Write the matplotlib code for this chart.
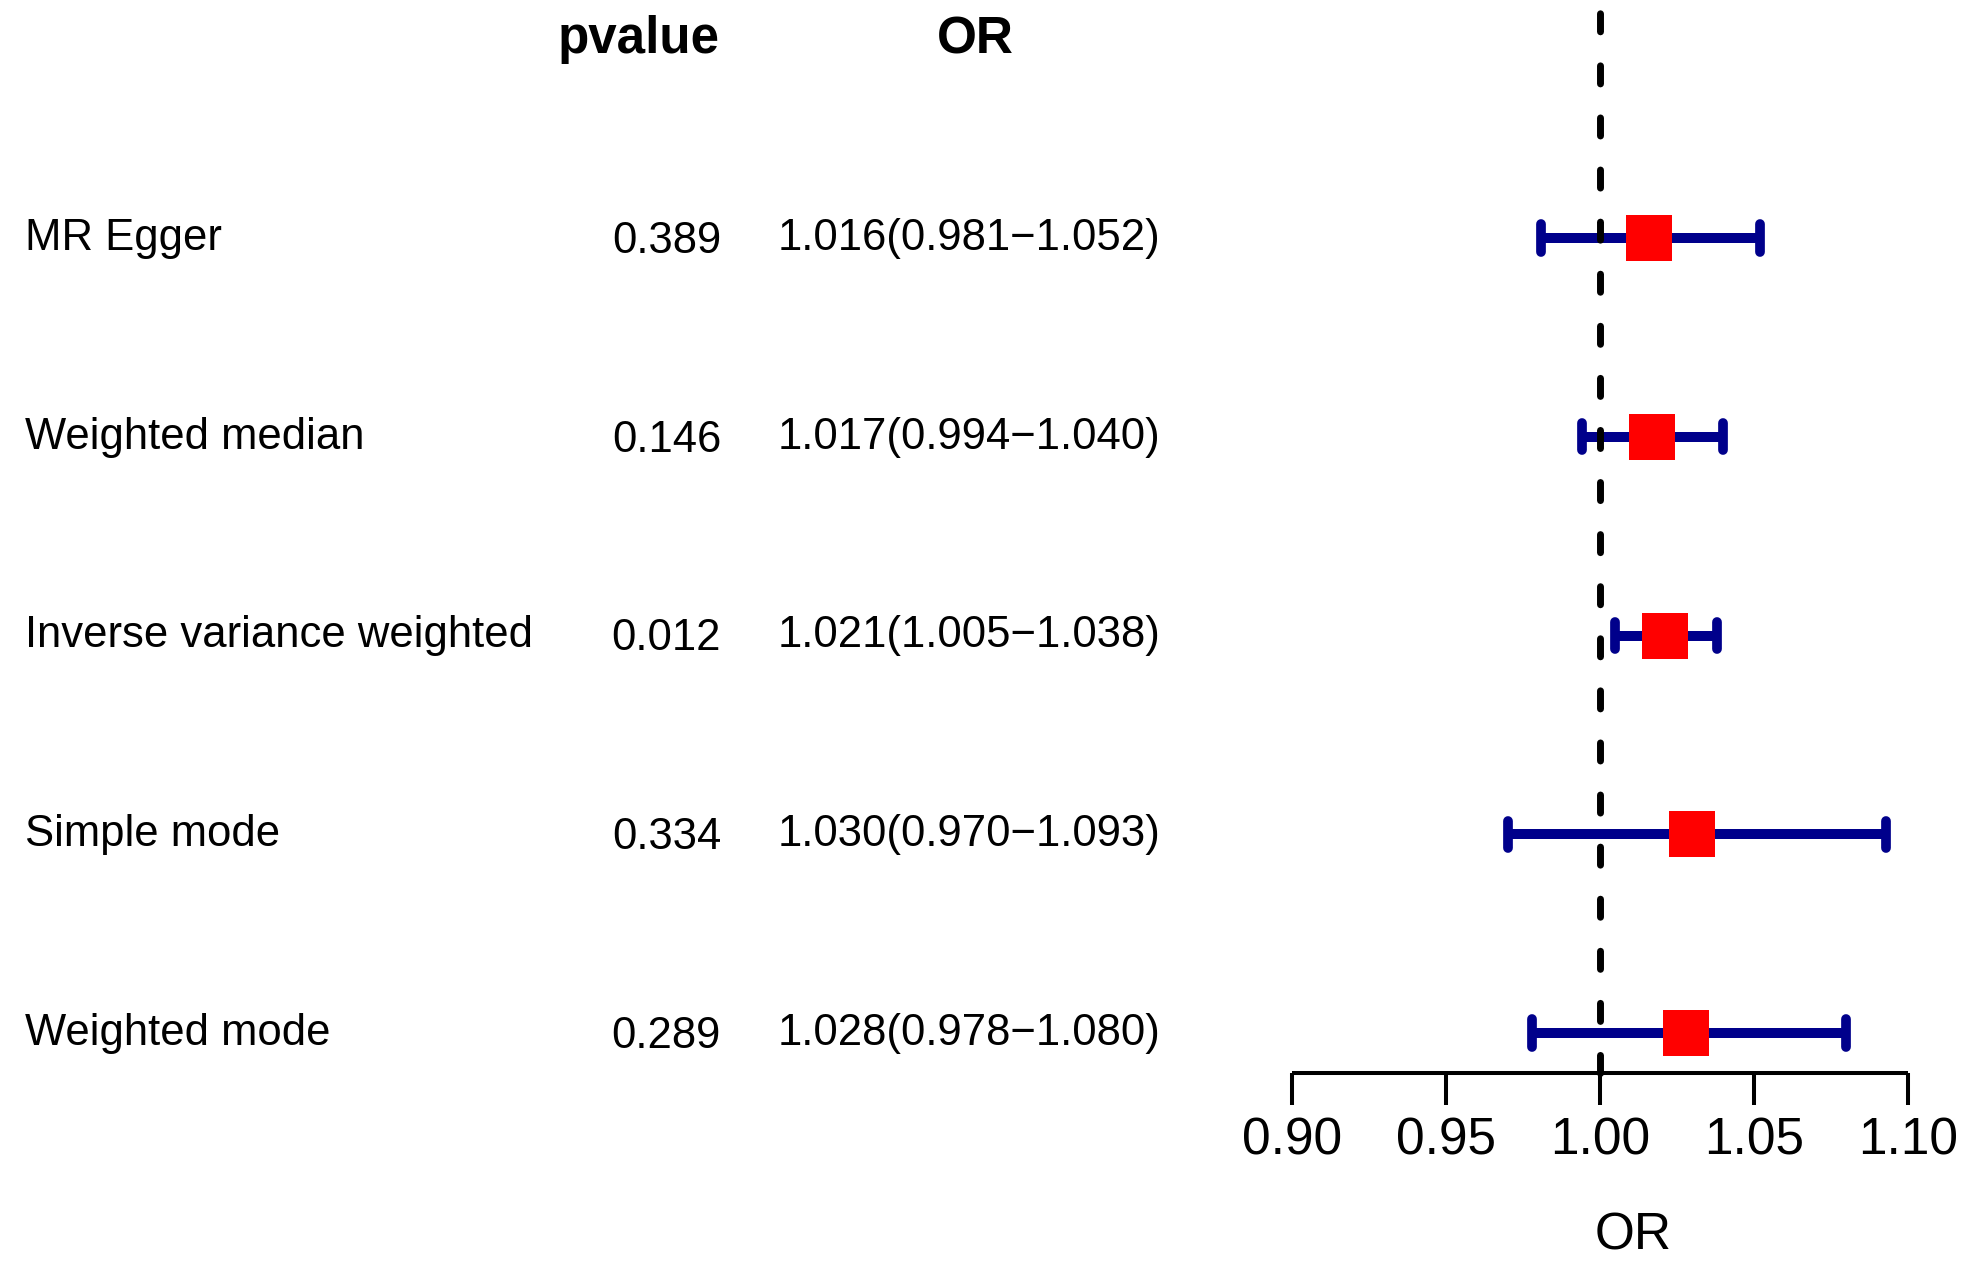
import matplotlib
matplotlib.use("Agg")
import matplotlib.pyplot as plt
import matplotlib.transforms as mtransforms

plt.rcParams['font.family'] = ['Liberation Sans', 'DejaVu Sans']

# ---- data ----
methods = ["MR Egger", "Weighted median", "Inverse variance weighted",
           "Simple mode", "Weighted mode"]
pvalues = ["0.389", "0.146", "0.012", "0.334", "0.289"]
or_vals = [1.016, 1.017, 1.021, 1.030, 1.028]
lower = [0.981, 0.994, 1.005, 0.970, 0.978]
upper = [1.052, 1.040, 1.038, 1.093, 1.080]
xticks = [0.90, 0.95, 1.00, 1.05, 1.10]
xtick_labels = ["0.90", "0.95", "1.00", "1.05", "1.10"]

W, H = 1969, 1261
fig = plt.figure(figsize=(W / 100, H / 100), dpi=100)

# forest axes: x 0.90..1.10 -> px 1292..1908 ; y px 0..1073
row0_px, row_step = 238.0, 198.75
axis_px = 1073.0
ax = fig.add_axes([1292 / W, (H - axis_px) / H, 616 / W, axis_px / H])
ax.set_xlim(0.90, 1.10)
ybot = -(axis_px - row0_px) / row_step
ytop = row0_px / row_step
ax.set_ylim(ybot, ytop)
ys = [-i for i in range(len(methods))]

for s in ['top', 'right', 'left']:
    ax.spines[s].set_visible(False)
ax.spines['bottom'].set_linewidth(2.9)
ax.spines['bottom'].set_bounds(0.90, 1.10)
ax.spines['bottom'].set_capstyle('butt')
ax.set_yticks([])
ax.set_xticks(xticks)
ax.set_xticklabels(xtick_labels, fontsize=37)
ax.tick_params(axis='x', length=23, width=2.9, pad=8.3, color='black')
ax.patch.set_alpha(0)

navy = '#00008B'
# error bars
ax.hlines(ys, lower, upper, colors=navy, linewidth=7.2, capstyle='butt', zorder=2)
cap_half = 13.7 / row_step
for lo, hi, y in zip(lower, upper, ys):
    ax.vlines([lo, hi], y - cap_half, y + cap_half, colors=navy,
              linewidth=7.0, capstyle='round', zorder=2)

# reference dashed line, drawn from bottom upwards
ax.plot([1.0, 1.0], [ybot, ytop + 0.5], color='black', linewidth=5,
        linestyle=(0, (2.6, 4.9)), dash_capstyle='round', zorder=3,
        clip_on=False)

# squares
ax.plot(or_vals, ys, linestyle='none', marker='s', markersize=33.8,
        markerfacecolor='#FF0000', markeredgewidth=0, zorder=4)

# ---- text columns ----
blend = mtransforms.blended_transform_factory(fig.transFigure, ax.transData)

def off(px):
    return blend + mtransforms.ScaledTranslation(0, -px / 100, fig.dpi_scale_trans)

for name, p, o, lo, hi, y in zip(methods, pvalues, or_vals, lower, upper, ys):
    fig.text(25 / W, y, name, transform=off(12), ha='left', va='baseline',
             fontsize=31.4)
    fig.text(721 / W, y, p, transform=off(15), ha='right', va='baseline',
             fontsize=31.4)
    fig.text(778 / W, y, f"{o:.3f}({lo:.3f}\u2212{hi:.3f})", transform=off(12),
             ha='left', va='baseline', fontsize=31.4)

# headers
fig.text(720 / W, 1 - 53 / H, "pvalue", ha='right', va='baseline',
         fontsize=36.8, fontweight='bold')
fig.text(975 / W, 1 - 53 / H, "OR", ha='center', va='baseline',
         fontsize=37, fontweight='bold')

# x axis title
fig.text(1633 / W, 1 - 1250 / H, "OR", ha='center', va='baseline', fontsize=37)

fig.savefig("out.png", dpi=100)
